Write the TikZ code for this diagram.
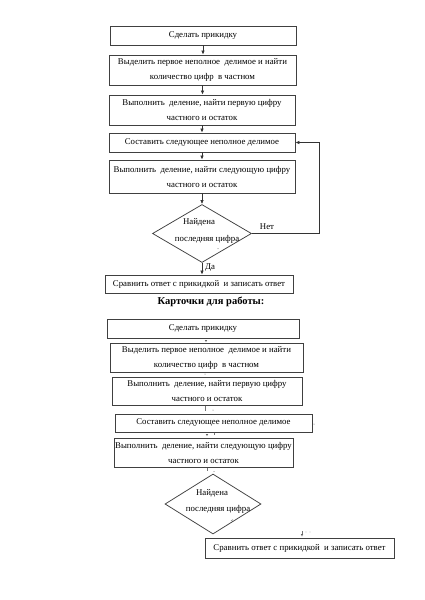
\documentclass[tikz,border=0pt]{standalone}
\usepackage{fontspec}
\setmainfont{Liberation Serif}
\usetikzlibrary{shapes.geometric,arrows.meta,calc}
\begin{document}
\begin{tikzpicture}[x=1pt,y=-1pt,
  box/.style={draw=black!75,line width=0.75pt,inner sep=0pt,align=center,
    font=\fontsize{8.8}{15}\selectfont,text=black},
  decision/.style={draw=black!75,line width=0.75pt,diamond,inner sep=0pt},
  lbl/.style={font=\fontsize{8.8}{15}\selectfont,inner sep=0pt,text=black},
  arr/.style={draw=black!80,line width=0.7pt,-{Latex[length=4pt,width=3.4pt]}},
  speck/.style={fill=black!60},
  tick/.style={draw=black!55,line width=0.5pt}
]
\useasboundingbox[fill=white] (0,0) rectangle (424,600);

% ---------- upper flowchart ----------
\node[box,minimum width=186pt,minimum height=19pt] (t1) at (203,35.5) {Сделать прикидку};
\node[box,minimum width=187pt,minimum height=30pt] (t2) at (202.5,70)
  {Выделить первое неполное \ делимое и найти\\количество цифр \ в частном};
\node[box,minimum width=186pt,minimum height=30pt] (t3) at (202,110)
  {Выполнить \ деление, найти первую цифру\\частного и остаток};
\node[box,minimum width=186pt,minimum height=19pt] (t4) at (202,142.5)
  {Составить следующее неполное делимое};
\node[box,minimum width=186pt,minimum height=33pt] (t5) at (202,176.5)
  {Выполнить \ деление, найти следующую цифру\\частного и остаток};
\node[decision,minimum width=99pt,minimum height=58pt] (d1) at (202,233.5) {};
\node[lbl] (d1a) at (199,222) {Найдена};
\node[lbl] (d1b) at (207,239) {последняя цифра};
\node[box,minimum width=188pt,minimum height=18pt] (t6) at (199,284)
  {Сравнить ответ с прикидкой \ и записать ответ};
\node[lbl] (no) at (267,227) {Нет};
\node[lbl] (yes) at (210,267.5) {Да};
\coordinate (lc) at (319,233.5);

\draw[arr] (t1.south) -- (t1.south |- t2.north);
\draw[arr] (t2.south) -- (t2.south |- t3.north);
\draw[arr] (t3.south) -- (t3.south |- t4.north);
\draw[arr] (t4.south) -- (t4.south |- t5.north);
\draw[arr] (t5.south) -- (d1.north);
\draw[arr] (d1.south) -- (d1.south |- t6.north);
\draw[arr] (d1.east) -- (lc) |- (t4.east);
\fill[speck] (218,248.5) circle (0.5pt);

% ---------- title ----------
\node[font=\bfseries\fontsize{10.5}{12}\selectfont,inner sep=0pt] (title) at (211,301.5)
  {Карточки для работы:};

% ---------- cards ----------
\node[box,minimum width=192pt,minimum height=19pt] (b1) at (203,328.5) {Сделать прикидку};
\node[box,minimum width=193pt,minimum height=29pt] (b2) at (206.5,357.5)
  {Выделить первое неполное \ делимое и найти\\количество цифр \ в частном};
\node[box,minimum width=190pt,minimum height=28pt] (b3) at (207,391)
  {Выполнить \ деление, найти первую цифру\\частного и остаток};
\node[box,minimum width=197pt,minimum height=18pt] (b4) at (213.5,423)
  {Составить следующее неполное делимое};
\node[box,minimum width=179pt,minimum height=29pt] (b5) at (203.5,452.5)
  {Выполнить \ деление, найти следующую цифру\\частного и остаток};
\node[decision,minimum width=96pt,minimum height=60pt] (d2) at (213,504) {};
\node[lbl] (d2a) at (212,493) {Найдена};
\node[lbl] (d2b) at (218,509) {последняя цифра};
\node[box,minimum width=189pt,minimum height=20pt] (b6) at (299.5,548)
  {Сравнить ответ с прикидкой \ и записать ответ};

% leftover specks between the cards
\fill[speck] (204.8,340) -- (207.2,340) -- (206,342) -- cycle;
\fill[speck] (205,374) circle (0.5pt);
\draw[tick] (205,405.5) -- (205,411);
\fill[speck] (213,410) circle (0.5pt);
\fill[speck] (205.8,434) -- (208.2,434) -- (207,436) -- cycle;
\draw[tick] (214,432.5) -- (214,435);
\draw[tick] (207,467.5) -- (207,471);
\fill[speck] (214,471.5) circle (0.5pt);
\fill[speck] (314,424) circle (0.5pt);
\draw[tick] (231,521) -- (233,519.5);
\draw[tick] (302,531) -- (302,535);
\fill[speck] (300.8,534) -- (303.2,534) -- (302,536.5) -- cycle;
\fill[speck] (306,532) circle (0.45pt);
\fill[speck] (310,532) circle (0.45pt);
\end{tikzpicture}
\end{document}
